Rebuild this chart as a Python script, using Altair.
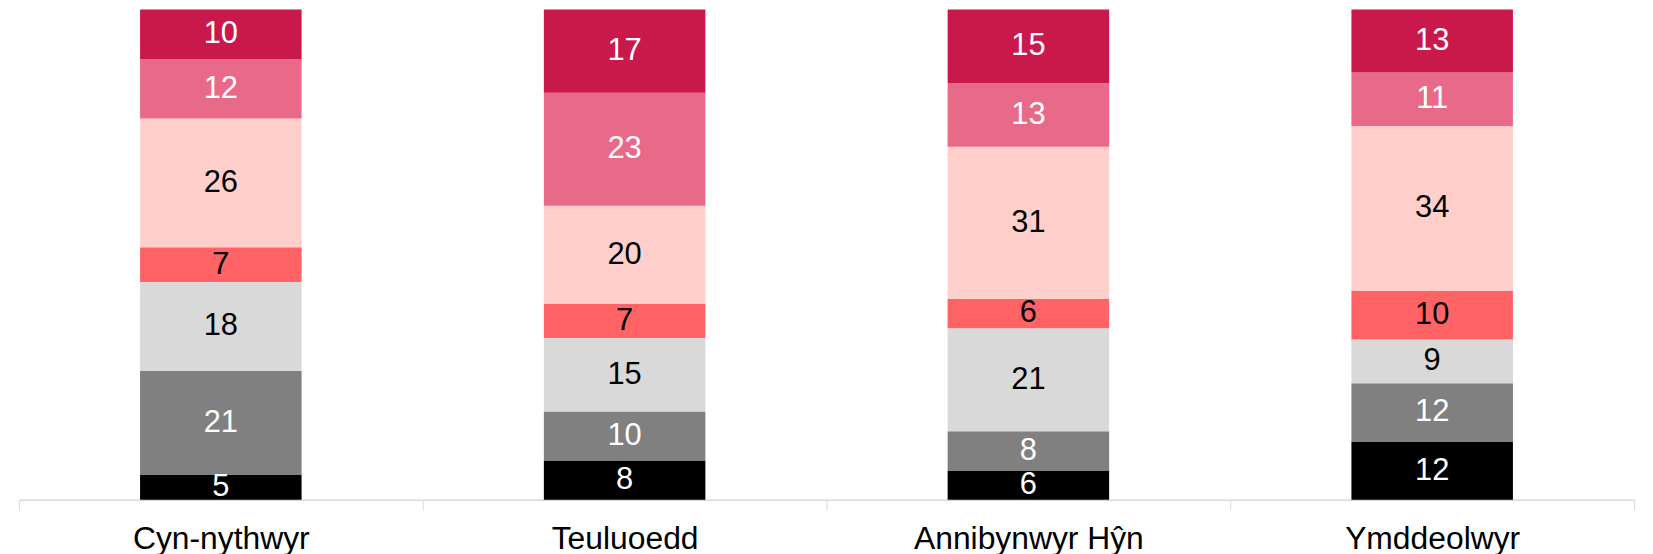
import altair as alt
import pandas as pd

categories = ["Cyn-nythwyr", "Teuluoedd", "Annibynwyr Hŷn", "Ymddeolwyr"]
series = ["S1", "S2", "S3", "S4", "S5", "S6", "S7"]  # bottom to top
colors = ["#000000", "#808080", "#D9D9D9", "#FF6366", "#FFD0CB", "#E96A88", "#C8194A"]
label_colors = ["#FFFFFF", "#FFFFFF", "#000000", "#000000", "#000000", "#FFFFFF", "#FFFFFF"]
values = {
    "Cyn-nythwyr":    [5, 21, 18, 7, 26, 12, 10],
    "Teuluoedd":      [8, 10, 15, 7, 20, 23, 17],
    "Annibynwyr Hŷn": [6, 8, 21, 6, 31, 13, 15],
    "Ymddeolwyr":     [12, 12, 9, 10, 34, 11, 13],
}

rows = []
for c in categories:
    for i, s in enumerate(series):
        rows.append({"cat": c, "series": s, "order": i, "value": values[c][i],
                     "lc": label_colors[i]})
df = pd.DataFrame(rows)

FONT = "Liberation Sans"

base = alt.Chart(df).encode(
    x=alt.X("cat:N", sort=categories,
            scale=alt.Scale(paddingInner=0, paddingOuter=0),
            axis=alt.Axis(title=None, labelAngle=0, labelFont=FONT, labelFontSize=32,
                          labelColor="#000000", labelPadding=14, tickBand="extent",
                          tickColor="#D9D9D9", tickSize=10, domainColor="#D9D9D9",
                          domainWidth=1.5, labelBaseline="top", labelLimit=0)),
)

bars = base.mark_bar(width={"band": 0.4}).encode(
    y=alt.Y("value:Q", stack="normalize", scale=alt.Scale(domain=[0, 1]), axis=None),
    color=alt.Color("series:N", scale=alt.Scale(domain=series, range=colors), legend=None),
    order=alt.Order("order:Q"),
)

labels = base.transform_joinaggregate(
    total="sum(value)", groupby=["cat"]
).transform_window(
    cum="sum(value)", groupby=["cat"], sort=[alt.SortField("order")],
    frame=[None, 0]
).transform_calculate(
    mid="(datum.cum - datum.value/2) / datum.total"
).mark_text(font=FONT, fontSize=31, baseline="middle", align="center").encode(
    y=alt.Y("mid:Q", scale=alt.Scale(domain=[0, 1]), axis=None),
    text=alt.Text("value:Q"),
    color=alt.Color("lc:N", scale=None, legend=None),
)

chart = alt.layer(bars, labels).properties(
    width=1624, height=493,
    padding={"left": 10, "top": 0, "right": 10, "bottom": 5},
).configure_view(stroke=None)

chart.save("out.html", embed_options={"renderer": "svg", "actions": False})
